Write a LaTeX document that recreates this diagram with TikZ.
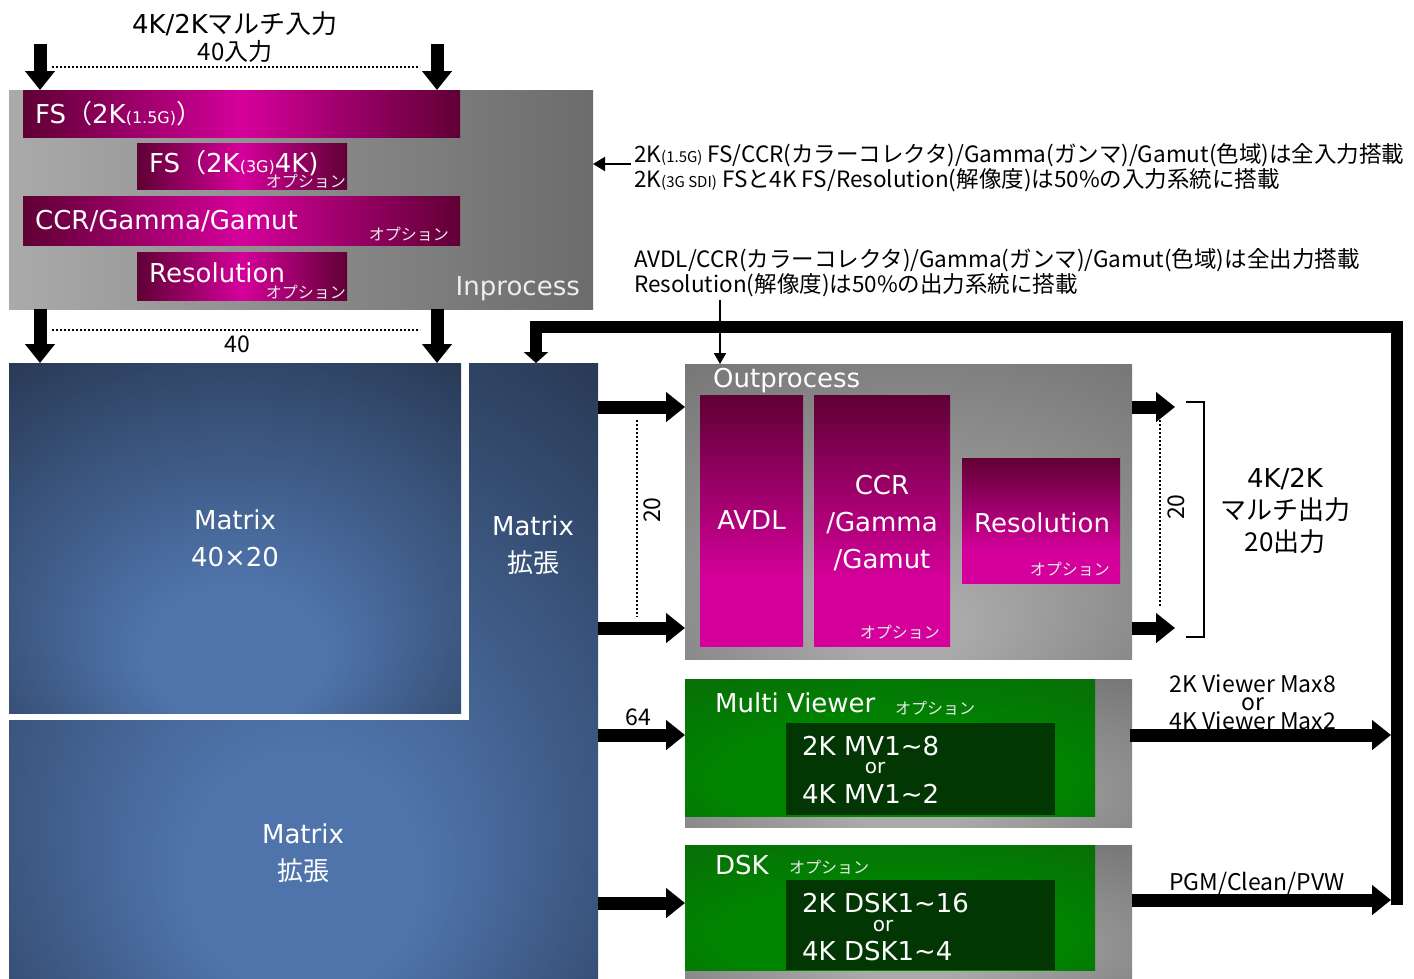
\documentclass[tikz,border=0pt]{standalone}
\usepackage{fontspec}
\setmainfont{DejaVu Sans}
\newfontfamily\jp{Noto Sans CJK JP}
\usetikzlibrary{arrows.meta,calc}

\definecolor{magdark}{HTML}{600034}
\definecolor{magbright}{HTML}{D5009B}
\definecolor{mxin}{HTML}{4F74AB}
\definecolor{mxout}{HTML}{1A2334}
\definecolor{grayhi}{HTML}{AAAAAA}
\definecolor{graylo}{HTML}{6C6C6C}
\definecolor{grnhi}{HTML}{008500}
\definecolor{grnlo}{HTML}{0B630B}
\definecolor{grndeep}{HTML}{023602}

\pgfdeclarehorizontalshading{magbar}{100bp}{color(0bp)=(magdark); color(25bp)=(magdark); color(50bp)=(magbright); color(75bp)=(magdark); color(100bp)=(magdark)}
\pgfdeclareverticalshading{magcol}{100bp}{color(0bp)=(magbright); color(25bp)=(magbright); color(38bp)=(magbright); color(75bp)=(magdark); color(100bp)=(magdark)}
\pgfdeclareradialshading{mxshade}{\pgfpoint{0bp}{-20bp}}{color(0bp)=(mxin); color(10bp)=(mxin); color(52bp)=(mxout); color(60bp)=(mxout)}
\pgfdeclareradialshading{grayshade}{\pgfpoint{0bp}{-22bp}}{color(0bp)=(grayhi); color(6bp)=(grayhi); color(48bp)=(graylo); color(60bp)=(graylo)}
\pgfdeclareradialshading{grnshade}{\pgfpoint{0bp}{-18bp}}{color(0bp)=(grnhi); color(20bp)=(grnhi); color(50bp)=(grnlo); color(60bp)=(grnlo)}

\begin{document}
\begin{tikzpicture}[x=1pt, y=-1pt,
  box/.style={inner sep=0pt, outer sep=0pt, anchor=north west},
  lbl/.style={text=white, font=\fontsize{26}{37}\selectfont, inner sep=0pt, align=center},
  opt/.style={text=white!92!black, font=\jp\fontsize{16}{16}\selectfont, inner sep=0pt},
  note/.style={font=\jp\fontsize{22.5}{25}\selectfont, align=left, inner sep=0pt, anchor=north west},
  num/.style={font=\jp\fontsize{23}{23}\selectfont, inner sep=0pt},
  inner/.style={text=white, font=\fontsize{26}{26}\selectfont, inner sep=0pt, anchor=west},
  fat/.style={line width=13pt, -{Triangle[width=29pt, length=19pt]}},
  thinarrow/.style={line width=2pt, -{Triangle[width=14pt, length=12pt]}},
  dotline/.style={line width=1.5pt, dash pattern=on 2pt off 2pt},
]
\useasboundingbox (0,0) rectangle (1414,978);

% input side
\node[font=\fontsize{26}{27}\selectfont, align=center, inner sep=0pt] (title) at (235,37)
  {4K/2K{\jp マルチ入力}\\{\jp\fontsize{24}{24}\selectfont 40入力}};

\node[box, minimum width=584pt, minimum height=219pt, left color=grayhi, right color=graylo] (inproc) at (9,90) {};
\node[box, shade, shading=magbar, minimum width=437pt, minimum height=47pt] (fsa) at (23,90) {};
\node[box, shade, shading=magbar, minimum width=210pt, minimum height=46pt] (fsb) at (137,143) {};
\node[box, shade, shading=magbar, minimum width=437pt, minimum height=49pt] (ccra) at (23,196) {};
\node[box, shade, shading=magbar, minimum width=210pt, minimum height=48pt] (resa) at (137,252) {};

\node[lbl, anchor=west] (fsatxt) at (35,114) {FS{\jp（}2K{\fontsize{16}{16}\selectfont(1.5G)}{\jp）}};
\node[lbl, anchor=west] (fsbtxt) at (149,163) {FS{\jp（}2K{\fontsize{16}{16}\selectfont(3G)}4K)};
\node[opt, anchor=east] (fsbopt) at (346,181) {オプション};
\node[lbl, anchor=west] (ccratxt) at (35,221) {CCR/Gamma/Gamut};
\node[opt, anchor=east] (ccraopt) at (449,234) {オプション};
\node[lbl, anchor=west] (resatxt) at (149,273) {Resolution};
\node[opt, anchor=east] (resaopt) at (346,292) {オプション};
\node[lbl, anchor=east, text=white!93!black] (inproctxt) at (580,289) {Inprocess};

\node[note] (notein) at (634,143)
  {2K{\fontsize{15}{15}\selectfont(1.5G)} FS/CCR(カラーコレクタ)/Gamma(ガンマ)/Gamut(色域)は全入力搭載\\
   2K{\fontsize{15}{15}\selectfont(3G SDI)} FSと4K FS/Resolution(解像度)は50\%の入力系統に搭載};
\node[note] (noteout) at (634,248)
  {AVDL/CCR(カラーコレクタ)/Gamma(ガンマ)/Gamut(色域)は全出力搭載\\
   Resolution(解像度)は50\%の出力系統に搭載};

% matrix
\node[box, shade, shading=mxshade, minimum width=589pt, minimum height=615pt] (mxext) at (9,363) {};
\node[box, fill=white, minimum width=460pt, minimum height=357pt] (mxgap) at (9,363) {};
\node[box, shade, shading=mxshade, minimum width=452pt, minimum height=350pt, lbl] (mx) at (9,363)
  {Matrix\\40×20};
\node[lbl] (mxexta) at (533,545) {Matrix\\{\jp 拡張}};
\node[lbl] (mxextb) at (303,853) {Matrix\\{\jp 拡張}};

% outprocess
\node[box, shade, shading=grayshade, minimum width=447pt, minimum height=295pt] (outproc) at (685,364) {};
\node[lbl, anchor=west] (outproctxt) at (713,381) {Outprocess};
\node[box, shade, shading=magcol, minimum width=103pt, minimum height=251pt] (avdl) at (700,395) {};
\node[lbl] at (avdl.center) {AVDL};
\node[box, shade, shading=magcol, minimum width=136pt, minimum height=251pt] (ccrb) at (814,395) {};
\node[lbl] (ccrbtxt) at ($(ccrb.center)+(0,3)$) {CCR\\/Gamma\\/Gamut};
\node[opt, anchor=east] (ccrbopt) at (940,632) {オプション};
\node[box, shade, shading=magcol, minimum width=158pt, minimum height=125pt] (resb) at (962,458) {};
\node[lbl] (resbtxt) at (1042,523) {Resolution};
\node[opt, anchor=east] (resbopt) at (1110,569) {オプション};

% multi viewer
\node[box, shade, shading=grayshade, minimum width=447pt, minimum height=148pt] (mvgray) at (685,679) {};
\node[box, shade, shading=grnshade, minimum width=410pt, minimum height=137pt] (mvgreen) at (685,679) {};
\node[box, fill=grndeep, minimum width=269pt, minimum height=92pt] (mvin) at (786,723) {};
\node[lbl, anchor=west] (mvtxt) at (715,703) {Multi Viewer};
\node[opt, anchor=west] (mvopt) at (895,708) {オプション};
\node[inner] (mva) at (802,746) {2K MV1\textasciitilde 8};
\node[inner, anchor=center, font=\fontsize{20}{20}\selectfont] (mvor) at (875,768) {or};
\node[inner] (mvb) at (802,794) {4K MV1\textasciitilde 2};

% dsk
\node[box, shade, shading=grayshade, minimum width=447pt, minimum height=133pt] (dskgray) at (685,845) {};
\node[box, shade, shading=grnshade, minimum width=410pt, minimum height=125pt] (dskgreen) at (685,845) {};
\node[box, fill=grndeep, minimum width=269pt, minimum height=90pt] (dskin) at (786,880) {};
\node[lbl, anchor=west] (dsktxt) at (715,865) {DSK};
\node[opt, anchor=west] (dskopt) at (789,867) {オプション};
\node[inner] (dska) at (802,903) {2K DSK1\textasciitilde 16};
\node[inner, anchor=center, font=\fontsize{20}{20}\selectfont] (dskor) at (883,926) {or};
\node[inner] (dskb) at (802,951) {4K DSK1\textasciitilde 4};

% output labels
\node[font=\fontsize{26}{32}\selectfont, align=center, inner sep=0pt] (outlbl) at (1285,511)
  {4K/2K\\{\jp マルチ出力}\\{\jp 20出力}};
\node[font=\jp\fontsize{23}{18}\selectfont, align=center, inner sep=0pt] (mvlbl) at (1253,702)
  {2K Viewer Max8\\or\\4K Viewer Max2};
\node[font=\jp\fontsize{23}{23}\selectfont, inner sep=0pt, anchor=west] (dsklbl) at (1169,883) {PGM/Clean/PVW};
\node[num] (n40) at (237,344) {40};
\node[num] (n64) at (638,717) {64};
\node[num, rotate=90] (n20a) at (652,510) {20};
\node[num, rotate=90] (n20b) at (1176,507) {20};

% connectors
\coordinate (in1) at (40,44);
\coordinate (in2) at (437,44);
\draw[fat] (in1) -- (in1 |- inproc.north);
\draw[fat] (in2) -- (in2 |- inproc.north);
\draw[dotline] ($(in1)+(12,23)$) -- ($(in2)+(-17,23)$);
\draw[fat] (in1 |- inproc.south) -- (in1 |- mx.north);
\draw[fat] (in2 |- inproc.south) -- (in2 |- mx.north);
\draw[dotline] ($(in1 |- inproc.south)+(12,21)$) -- ($(in2 |- inproc.south)+(-17,21)$);

\draw[thinarrow] ($(notein.north west)+(-3,21)$) -- ($(inproc.north east)+(0,74)$);
\draw[line width=1.6pt, -{Triangle[width=12pt, length=11pt]}] ($(noteout.south west)+(86,3)$) coordinate (nb) -- (nb |- outproc.north);

\draw[fat] ($(mxext.north east)+(0,44)$) -- ($(outproc.north west)+(0,43)$);
\draw[fat] ($(mxext.north east)+(0,265)$) -- ($(outproc.north west)+(0,264)$);
\draw[fat] ($(mxext.north east)+(0,372)$) -- ($(mvgreen.north west)+(0,56)$);
\draw[fat] ($(mxext.north east)+(0,540)$) -- ($(dskgreen.north west)+(0,58)$);
\draw[dotline] (637,420) -- (637,617);

\coordinate (oo1) at (1175,407);
\coordinate (oo2) at (1175,628);
\draw[fat] (oo1 -| outproc.east) -- (oo1);
\draw[fat] (oo2 -| outproc.east) -- (oo2);
\draw[dotline] (1160,420) -- (1160,607);
\draw[line width=2.2pt] (1186,402) -- (1204,402) -- (1204,637) -- (1186,637);

\coordinate (busl) at (1391,0);
\draw[fat] ($(mvgray.north east)+(-2,56)$) coordinate (mvo) -- (mvo -| busl);
\draw[fat] ($(dskgray.north east)+(0,55)$) coordinate (dsko) -- (dsko -| busl);

\coordinate (busb) at (1397,905);
\coordinate (busc) at (536,327);
\draw[line width=12pt, -{Triangle[width=24pt, length=11pt]}] (busb) |- (busc) -- (busc |- mxext.north);
\end{tikzpicture}
\end{document}
